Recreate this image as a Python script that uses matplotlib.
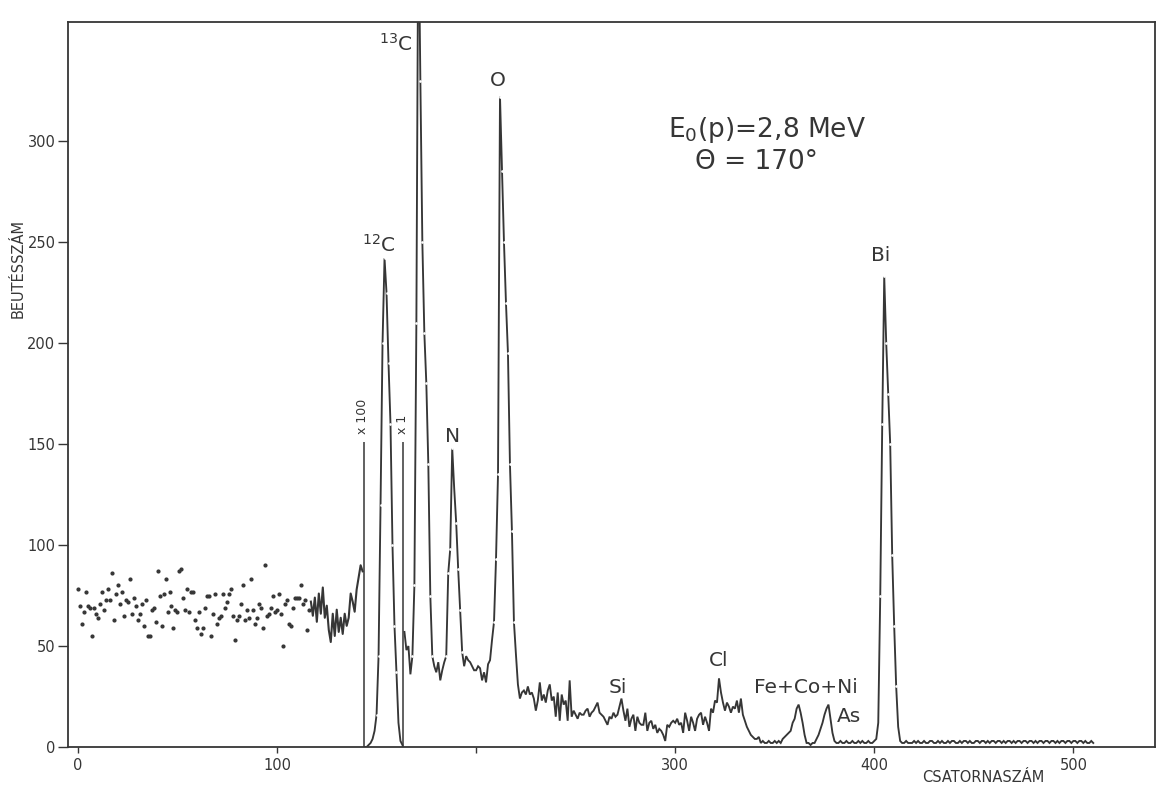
import numpy as np
import matplotlib
matplotlib.use("Agg")
import matplotlib.pyplot as plt

# ---- spectrum data: counts per channel ----
# channels 0-116, plotted as isolated points (x100 scale)
dot_counts = [78, 70, 61, 67, 77, 70, 69, 55, 69, 66,
              64, 71, 77, 68, 73, 78, 73, 86, 63, 76,
              80, 71, 77, 65, 73, 72, 83, 66, 74, 70,
              63, 66, 71, 60, 73, 55, 55, 68, 69, 62,
              87, 75, 60, 76, 83, 67, 77, 70, 59, 68,
              67, 87, 88, 74, 68, 78, 67, 77, 77, 63,
              59, 67, 56, 59, 69, 75, 75, 55, 66, 76,
              61, 64, 65, 76, 69, 72, 76, 78, 65, 53,
              63, 65, 71, 80, 63, 68, 64, 83, 68, 61,
              64, 71, 69, 59, 90, 65, 66, 69, 75, 67,
              68, 76, 66, 50, 71, 73, 61, 60, 69, 74,
              74, 74, 80, 71, 73, 58, 68]
dot_start = 0

# channels 117-143, connected trace (x100 scale)
trace_counts = [72, 65, 74, 62, 76, 66, 79, 64, 70, 58,
                52, 66, 55, 68, 57, 64, 56, 66, 60, 64,
                76, 72, 67, 78, 84, 90, 87]
trace_start = 117

# channels 144-163, 12C peak
c12_counts = [0, 0, 1, 2, 4, 8, 16, 45, 120, 200,
              242, 225, 190, 160, 100, 60, 37, 12, 3, 1]
c12_start = 144

# channels 164-221: 13C, N and O peaks
light_counts = [57, 48, 50, 36, 45, 80, 210, 420, 330, 250,
                205, 180, 140, 75, 45, 40, 37, 42, 33, 38,
                42, 45, 86, 98, 148, 128, 111, 88, 68, 47,
                40, 45, 43, 42, 40, 38, 38, 40, 39, 33,
                37, 32, 41, 43, 53, 62, 93, 135, 322, 285,
                250, 220, 195, 140, 107, 62, 46, 31]
light_start = 164

# channels 222-342: background with Si and Cl
mid_counts = [24, 27, 28, 26, 30, 26, 27, 24, 18, 23,
              32, 23, 26, 22, 28, 31, 23, 25, 15, 27,
              13, 26, 21, 23, 13, 33, 15, 18, 16, 14,
              17, 16, 16, 18, 19, 15, 17, 18, 20, 22,
              17, 16, 15, 13, 11, 15, 14, 17, 15, 16,
              20, 24, 18, 13, 19, 10, 14, 16, 8, 15,
              12, 11, 11, 17, 8, 12, 13, 9, 11, 7,
              9, 8, 6, 3, 11, 10, 12, 13, 12, 14,
              11, 12, 7, 17, 13, 8, 15, 12, 8, 14,
              16, 17, 11, 15, 12, 8, 19, 17, 23, 22,
              34, 27, 22, 18, 22, 20, 17, 20, 19, 23,
              17, 24, 16, 13, 10, 8, 6, 5, 4, 4,
              5]
mid_start = 222

# channels 343-413: Fe+Co+Ni, As and Bi
heavy_counts = [2, 3, 2, 2, 3, 2, 2, 3, 2, 3,
                2, 4, 5, 6, 7, 8, 12, 14, 19, 21,
                17, 12, 6, 2, 2, 1, 2, 2, 4, 6,
                9, 12, 16, 19, 21, 14, 7, 3, 2, 2,
                3, 2, 2, 3, 2, 2, 3, 2, 2, 3,
                2, 3, 2, 2, 3, 2, 2, 3, 4, 12,
                75, 160, 233, 200, 175, 150, 95, 60, 30, 10, 3]
heavy_start = 343

# channels 414-510: tail
tail_counts = [2, 2, 3, 2, 2, 2, 3, 2, 3, 2,
               2, 3, 2, 2, 3, 3, 2, 2, 3, 2,
               3, 2, 2, 3, 2, 3, 3, 2, 2, 3,
               2, 3, 3, 2, 3, 2, 2, 3, 3, 2,
               3, 3, 2, 3, 2, 3, 3, 2, 3, 3,
               2, 3, 2, 3, 3, 2, 3, 2, 3, 3,
               2, 3, 3, 2, 3, 3, 2, 3, 2, 3,
               3, 2, 3, 3, 2, 3, 3, 2, 3, 2,
               3, 3, 2, 3, 3, 2, 3, 3, 2, 3,
               3, 2, 3, 2, 2, 3, 2]
tail_start = 414

# scale-change markers
scale_marks = [("x 100", 143.5), ("x 1", 163.5)]
scale_mark_height = 151

# peak labels: (text, channel, count)
peak_labels = [("$^{12}$C", 151, 243),
               ("$^{13}$C", 159.5, 343),
               ("N", 188, 149),
               ("O", 211, 325.5),
               ("Si", 271, 25),
               ("Cl", 322, 38),
               ("Fe+Co+Ni", 365.5, 25),
               ("As", 387.5, 10.5),
               ("Bi", 403, 238.5)]

x_ticks = [0, 100, 200, 300, 400, 500]
y_ticks = [0, 50, 100, 150, 200, 250, 300]

INK = "#363636"
plt.rcParams["font.family"] = ["DejaVu Sans"]

fig = plt.figure(figsize=(11.58, 7.91), dpi=100)
fig.patch.set_facecolor("white")
ax = fig.add_axes([0.0587, 0.0556, 0.9387, 0.9166])


def channels(start, values):
    return np.arange(start, start + len(values))


def draw_peak_line(start, values):
    x = channels(start, values)
    y = np.asarray(values, dtype=float)
    ax.plot(x, y, color=INK, lw=1.35, solid_joinstyle="miter", zorder=3)
    # small breaks at the plotted points on steep flanks
    d = np.abs(np.diff(y))
    steep = np.zeros(len(y), dtype=bool)
    steep[1:] |= d > 20
    steep[:-1] |= d > 20
    m = steep & (y > 12)
    ax.plot(x[m], y[m], ls="none", marker="o", ms=1.9, mfc="white",
            mec="none", zorder=4)


# x100 region
ax.plot(channels(dot_start, dot_counts), dot_counts, ls="none", marker="o",
        ms=2.0, color=INK, zorder=3)
ax.plot(channels(trace_start, trace_counts), trace_counts, color=INK, lw=1.5,
        zorder=3)

# x1 region
draw_peak_line(c12_start, c12_counts)
full_counts = light_counts + mid_counts + heavy_counts + tail_counts
draw_peak_line(light_start, full_counts)

# scale-change markers
for label, ch in scale_marks:
    ax.vlines(ch, 0, scale_mark_height, color=INK, lw=1.1, zorder=3)
    ax.text(ch - 0.6, scale_mark_height + 4, label, rotation=90, ha="center",
            va="bottom", fontsize=9, color=INK)

for text, ch, cnt in peak_labels:
    ax.text(ch, cnt, text, ha="center", va="bottom", fontsize=14.5, color=INK)

ax.text(346, 298, "E$_0$(p)=2,8 MeV", ha="center", va="bottom",
        fontsize=19, color=INK)
ax.text(341, 283, "Θ = 170°", ha="center", va="bottom", fontsize=19,
        color=INK)

ax.set_xlim(-5, 541)
ax.set_ylim(0, 359)
ax.set_xticks(x_ticks)
ax.set_yticks(y_ticks)
ax.set_xticklabels([str(t) if t != 200 else "" for t in x_ticks])
ax.tick_params(axis="y", direction="out", length=7, width=1.0, colors=INK,
               labelsize=10.5, pad=2)
ax.tick_params(axis="x", direction="out", length=4, width=1.0, colors=INK,
               labelsize=10.5, pad=4)
for s in ax.spines.values():
    s.set_color(INK)
    s.set_linewidth(1.3)

fig.text(18 / 1158, 1 - 268 / 791, "BEUTÉSSZÁM", rotation=90, ha="center",
         va="center", fontsize=10.5, color=INK)
fig.text(983 / 1158, 1 - 777 / 791, "CSATORNASZÁM", ha="center", va="center",
         fontsize=10.5, color=INK)

fig.savefig("out.png", dpi=100, facecolor="white")
